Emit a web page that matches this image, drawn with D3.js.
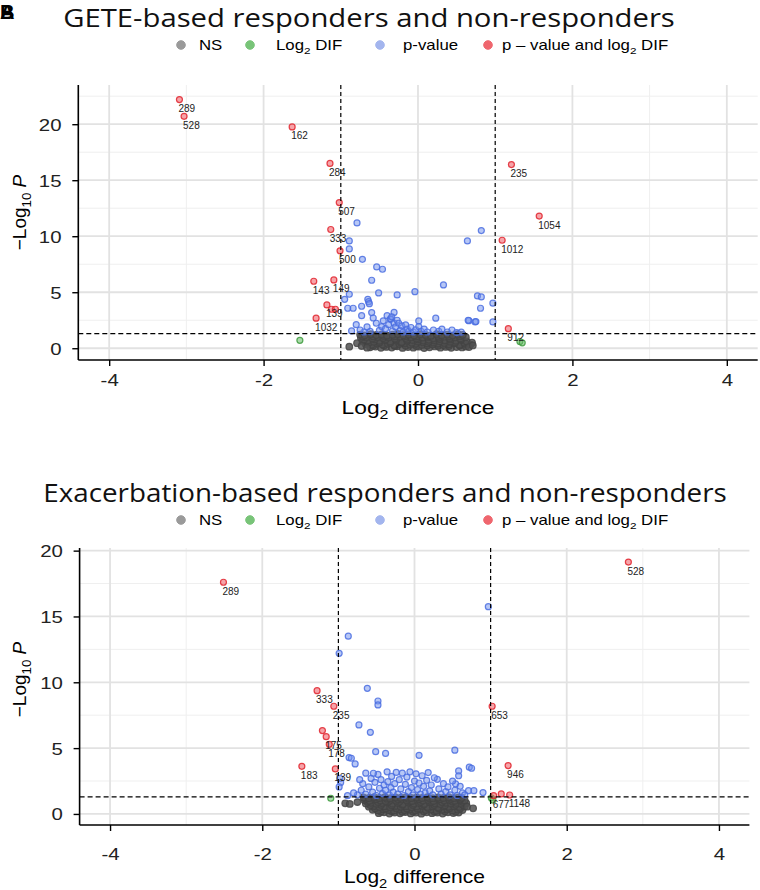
<!DOCTYPE html>
<html><head><meta charset="utf-8">
<script src="https://cdn.jsdelivr.net/npm/d3@7"></script>
<style>body{margin:0;background:#fff}</style>
</head><body>
<svg id="c" width="760" height="890"></svg>
<script>
// ---------------- DATA ----------------
const xTicks = [-4, -2, 0, 2, 4];
const xMinor = [-3, -1, 1, 3];
const yTicks = [0, 5, 10, 15, 20];
const yMinor = [2.5, 7.5, 12.5, 17.5, 22.5];
const log2Cut = 1;
const pCut = 1.3;
const legendLabels = ["NS", "Log_{2} DIF", "p-value", "p \u2013 value and log_{2} DIF"];
const titles = ["GETE-based responders and non-responders", "Exacerbation-based responders and non-responders"];
const xTitle = "Log_{2} difference";
const yTitle = "\u2212Log_{10} *P*";

// GETE panel
const geteNS = [
 [-0.62,0.08],[-0.55,0.15],[-0.48,0.04],[-0.41,0.12],[-0.34,0.06],[-0.27,0.17],[-0.2,0.03],[-0.13,0.1],[-0.06,0.05],[0.01,0.14],[0.08,0.02],[0.15,0.09],[0.22,0.16],[0.29,0.05],[0.36,0.12],[0.43,0.04],[0.5,0.1],[0.57,0.07],[0.62,0.15],
 [-0.58,0.22],[-0.44,0.24],[-0.3,0.2],[-0.16,0.23],[-0.02,0.21],[0.12,0.25],[0.26,0.22],[0.4,0.2],[0.54,0.24],
 [-0.68,0.38],[-0.6,0.31],[-0.53,0.42],[-0.46,0.33],[-0.39,0.4],[-0.31,0.29],[-0.24,0.37],[-0.17,0.44],[-0.1,0.32],[-0.03,0.39],[0.05,0.3],[0.12,0.43],[0.19,0.34],[0.26,0.41],[0.33,0.28],[0.4,0.36],[0.47,0.44],[0.54,0.31],[0.61,0.39],[0.68,0.33],
 [-0.64,0.5],[-0.5,0.52],[-0.36,0.48],[-0.22,0.51],[-0.08,0.49],[0.06,0.53],[0.2,0.5],[0.34,0.47],[0.48,0.52],[0.6,0.5],
 [-0.72,0.62],[-0.65,0.7],[-0.57,0.58],[-0.5,0.67],[-0.43,0.73],[-0.36,0.6],[-0.28,0.69],[-0.21,0.56],[-0.14,0.66],[-0.07,0.74],[0.0,0.61],[0.07,0.68],[0.14,0.57],[0.21,0.71],[0.28,0.63],[0.35,0.7],[0.42,0.59],[0.49,0.66],[0.56,0.73],[0.63,0.6],[0.7,0.5],
 [-0.7,0.79],[-0.56,0.8],[-0.42,0.77],[-0.28,0.81],[-0.14,0.78],[0.0,0.8],[0.14,0.76],[0.28,0.82],[0.42,0.79],[0.56,0.8],
 [-0.74,0.93],[-0.67,0.99],[-0.59,0.88],[-0.52,1.0],[-0.45,0.91],[-0.38,0.97],[-0.3,0.86],[-0.23,1.02],[-0.16,0.92],[-0.09,0.98],[-0.02,0.87],[0.06,0.96],[0.13,1.01],[0.2,0.89],[0.27,0.95],[0.34,1.03],[0.41,0.9],[0.48,0.97],[0.55,0.88],[0.62,0.99],
 [-0.72,1.08],[-0.58,1.06],[-0.44,1.1],[-0.3,1.07],[-0.16,1.09],[-0.02,1.05],[0.12,1.08],[0.26,1.1],[0.4,1.06],[0.54,1.08],
 [-0.75,1.22],[-0.69,1.15],[-0.61,1.26],[-0.54,1.18],[-0.47,1.24],[-0.4,1.13],[-0.33,1.21],[-0.26,1.27],[-0.19,1.16],[-0.12,1.23],[-0.05,1.14],[0.03,1.25],[0.1,1.19],[0.17,1.12],[0.24,1.26],[0.31,1.17],[0.38,1.22],[0.45,1.15],[0.52,1.25],[0.58,1.2],
 [-0.89,0.14],[-0.79,0.45],[-0.73,0.2],[-0.66,0.05],[0.66,0.1],[0.71,0.25]
];
const geteLog2 = [[-1.53,0.71],[1.32,0.6],[1.35,0.48]];
const geteP = [
 [-0.79,11.19],[-0.89,9.58],[-0.89,8.87],[-0.72,7.94],[-0.535,7.26],[-0.46,7.05],[-0.6,6.07],[0.33,5.65],[-0.04,5.05],[-0.51,4.94],[-0.27,4.76],[-0.89,4.82],[-0.95,4.37],[-0.65,4.37],[-0.64,4.16],[-0.63,3.98],[-0.73,3.75],[-0.91,3.57],[-0.84,3.57],[-0.6,3.18],[-0.73,2.91],[0.64,9.58],[0.82,10.5],[0.77,4.67],[0.82,4.58],[0.97,4.02],[0.81,3.57],[0.66,2.46],[0.74,2.35],[0.97,2.35],[-0.31,3.2],
 [-0.58,2.7],[-0.54,2.23],[-0.5,1.6],[-0.47,1.93],[-0.45,2.45],[-0.42,1.75],[-0.4,2.91],[-0.38,2.1],[-0.36,2.6],[-0.35,2.62],[-0.34,2.8],[-0.33,1.55],[-0.31,2.25],[-0.29,1.9],[-0.27,2.5],[-0.25,2.23],[-0.23,1.6],[-0.21,2.0],[-0.19,1.45],[-0.16,2.08],[-0.14,1.7],[-0.12,1.5],[-0.09,1.85],[-0.06,1.45],[-0.03,1.65],[0.01,2.44],[0.01,1.93],[0.04,1.5],[0.08,1.7],[0.12,1.45],[0.2,1.63],[0.23,2.68],[0.27,1.5],[0.31,1.7],[0.38,1.45],[0.44,1.63],[0.5,1.4],[0.56,1.43],[-0.62,1.5],[-0.66,1.9],[-0.7,1.45],[-0.75,1.63],[-0.8,2.1],[-0.86,1.55],[0.65,2.5],[0.75,2.38]
];
const geteBoth = [[-3.09,22.2,"289"],[-3.03,20.7,"528"],[-1.63,19.76,"162"],[-1.14,16.5,"284"],[-1.02,13.0,"507"],[-1.13,10.6,"333"],[-1.01,8.7,"500"],[-1.35,5.98,"143"],[-1.09,6.1,"149"],[-1.18,3.87,"139"],[-1.12,3.48,""],[-1.07,3.48,""],[-1.32,2.68,"1032"],[1.21,16.4,"235"],[1.57,11.8,"1054"],[1.09,9.64,"1012"],[1.17,1.75,"912"]];

// Exacerbation panel
const exacNS = [
 [-0.47,0.06],[-0.4,0.12],[-0.33,0.03],[-0.26,0.1],[-0.19,0.05],[-0.12,0.14],[-0.05,0.04],[0.02,0.11],[0.09,0.02],[0.16,0.13],[0.23,0.06],[0.3,0.1],[0.37,0.03],[0.44,0.12],[0.51,0.07],[0.58,0.1],
 [-0.44,0.18],[-0.3,0.2],[-0.16,0.17],[-0.02,0.19],[0.12,0.21],[0.26,0.18],[0.4,0.2],[0.54,0.17],
 [-0.55,0.32],[-0.48,0.27],[-0.41,0.36],[-0.34,0.3],[-0.27,0.25],[-0.2,0.35],[-0.13,0.28],[-0.06,0.33],[0.01,0.26],[0.08,0.37],[0.15,0.29],[0.22,0.34],[0.29,0.24],[0.36,0.31],[0.43,0.36],[0.5,0.27],[0.57,0.33],[0.63,0.3],
 [-0.52,0.43],[-0.38,0.41],[-0.24,0.44],[-0.1,0.42],[0.04,0.4],[0.18,0.45],[0.32,0.42],[0.46,0.44],[0.6,0.41],
 [-0.6,0.55],[-0.53,0.6],[-0.46,0.52],[-0.39,0.58],[-0.32,0.5],[-0.25,0.61],[-0.18,0.54],[-0.11,0.59],[-0.04,0.51],[0.03,0.57],[0.1,0.62],[0.17,0.53],[0.24,0.58],[0.31,0.5],[0.38,0.6],[0.45,0.54],[0.52,0.59],[0.59,0.52],[0.66,0.57],
 [-0.58,0.68],[-0.44,0.7],[-0.3,0.66],[-0.16,0.69],[-0.02,0.67],[0.12,0.71],[0.26,0.68],[0.4,0.66],[0.54,0.7],[0.64,0.68],
 [-0.64,0.8],[-0.57,0.85],[-0.5,0.77],[-0.43,0.83],[-0.36,0.88],[-0.29,0.78],[-0.22,0.84],[-0.15,0.76],[-0.08,0.86],[-0.01,0.79],[0.06,0.83],[0.13,0.77],[0.2,0.87],[0.27,0.81],[0.34,0.76],[0.41,0.85],[0.48,0.79],[0.55,0.84],[0.62,0.78],[0.68,0.82],
 [-0.62,0.93],[-0.48,0.91],[-0.34,0.94],[-0.2,0.92],[-0.06,0.95],[0.08,0.91],[0.22,0.93],[0.36,0.9],[0.5,0.94],[0.63,0.92],
 [-0.66,1.05],[-0.59,1.0],[-0.52,1.09],[-0.45,1.03],[-0.38,0.98],[-0.31,1.07],[-0.24,1.01],[-0.17,1.1],[-0.1,1.04],[-0.03,0.99],[0.04,1.08],[0.11,1.02],[0.18,1.06],[0.25,0.99],[0.32,1.09],[0.39,1.03],[0.46,1.07],[0.53,1.0],[0.6,1.05],[0.66,1.02],
 [-0.64,1.15],[-0.5,1.14],[-0.36,1.16],[-0.22,1.13],[-0.08,1.16],[0.06,1.14],[0.2,1.17],[0.34,1.13],[0.48,1.15],[0.6,1.14],
 [-0.67,1.25],[-0.6,1.21],[-0.53,1.27],[-0.46,1.22],[-0.39,1.28],[-0.32,1.2],[-0.25,1.26],[-0.18,1.23],[-0.11,1.28],[-0.04,1.21],[0.03,1.26],[0.1,1.22],[0.17,1.28],[0.24,1.2],[0.31,1.25],[0.38,1.22],[0.45,1.27],[0.52,1.21],[0.58,1.26],[0.62,1.23],
 [-0.91,0.81],[-0.85,0.76],[-0.75,0.9],[0.69,0.55],[0.77,0.43]
];
const exacLog2 = [[-1.10,1.19],[1.01,1.22],[1.03,1.05]];
const exacP = [
 [-0.87,13.5],[-0.99,12.2],[0.97,15.74],[-0.62,9.54],[-0.48,8.58],[-0.48,8.28],[-0.73,6.76],[-0.58,6.2],[-0.86,4.28],[-0.83,4.23],[-0.78,3.8],[-0.51,4.73],[-0.38,4.6],[0.06,4.45],[0.53,4.84],[0.72,3.55],[0.75,3.47],[0.58,3.27],[0.18,3.14],[0.54,2.28],[0.71,1.77],[0.78,1.77],[0.9,1.62],[0.3,2.63],[-0.98,2.7],
 [-0.75,1.45],[-0.7,1.8],[-0.68,2.3],[-0.64,1.5],[-0.6,2.05],[-0.57,2.7],[-0.55,1.65],[-0.52,2.4],[-0.5,1.4],[-0.48,3.0],[-0.46,1.95],[-0.44,2.6],[-0.42,1.55],[-0.4,2.2],[-0.38,1.8],[-0.36,3.2],[-0.35,2.45],[-0.33,1.45],[-0.31,2.0],[-0.3,2.85],[-0.28,1.65],[-0.26,2.3],[-0.24,3.15],[-0.22,1.5],[-0.2,2.6],[-0.18,1.9],[-0.16,3.1],[-0.14,1.4],[-0.12,2.25],[-0.1,2.8],[-0.08,1.7],[-0.06,3.2],[-0.04,2.0],[-0.02,1.45],[0.0,2.5],[0.02,3.05],[0.04,1.85],[0.06,2.35],[0.08,1.5],[0.1,2.9],[0.12,2.1],[0.14,1.6],[0.16,2.55],[0.2,1.75],[0.22,2.2],[0.24,1.45],[0.26,2.75],[0.32,1.9],[0.35,1.5],[0.38,2.3],[0.41,1.7],[0.44,2.05],[0.47,1.45],[0.5,2.5],[0.53,1.8],[0.56,1.4],[0.6,2.1],[0.63,1.6],[0.66,1.45],[0.58,2.9],[-0.64,3.1],[-0.72,2.6],[-0.97,2.38],[-0.99,2.05],[-0.88,1.39],[-0.8,1.6],[-0.54,3.09]
];
const exacBoth = [[-2.51,17.6,"289"],[2.81,19.13,"528"],[-1.28,9.36,"333"],[-1.06,8.18,"235"],[-1.21,6.33,""],[-1.16,5.87,"175"],[-1.12,5.29,"178"],[-1.48,3.62,"183"],[-1.04,3.42,"139"],[1.02,8.18,"653"],[1.23,3.67,"946"],[1.04,1.39,"677"],[1.14,1.52,""],[1.25,1.44,"1148"]];

// ---------------- STYLE / LAYOUT ----------------
const SANS = "'Liberation Sans', Arial, sans-serif";
const TITLEF = "'Open Sans', 'Noto Sans', sans-serif";
const SX = 1.2;
const colors = {
  ns:   {stroke: "#444444", fill: "#505050", leg: "#9a9a9a", fo: 0.85},
  log2: {stroke: "#3c9a3c", fill: "#66bb66", leg: "#78c478", fo: 0.55},
  p:    {stroke: "#4a6de0", fill: "#7090ee", leg: "#a3b5ee", fo: 0.5},
  both: {stroke: "#e0232d", fill: "#ee5a62", leg: "#ef666e", fo: 0.55}
};

const svg = d3.select("#c");

function rich(sel, str, size) {
  const parts = str.split(/(_\{[^}]*\}|\*[^*]*\*)/).filter(s => s.length);
  let shifted = false;
  parts.forEach(p => {
    const t = sel.append("tspan");
    if (p.startsWith("_{")) {
      t.text(p.slice(2, -1)).attr("font-size", size * 0.7).attr("dy", size * 0.3);
      shifted = true;
    } else {
      if (shifted) { t.attr("dy", -size * 0.3); shifted = false; }
      if (p.startsWith("*")) t.text(p.slice(1, -1)).attr("font-style", "italic");
      else t.text(p);
    }
  });
}

function label(parent, x, y, str, size, anchor, sx, family, rotate) {
  const g = parent.append("g").attr("transform", `translate(${x},${y})` + (rotate ? ` rotate(${rotate})` : "") + ` scale(${sx},1)`);
  const t = g.append("text").attr("font-family", family || SANS).attr("font-size", size)
    .attr("text-anchor", anchor).attr("dy", "0.35em").attr("fill", "#000");
  rich(t, str, size);
  return t;
}

function fitTitle(x, y, str, size, width) {
  const g = svg.append("g");
  const t = g.append("text").attr("font-family", TITLEF).attr("font-size", size)
    .attr("text-anchor", "middle").attr("dy", "0.35em").attr("fill", "#111").text(str);
  const w = t.node().getComputedTextLength();
  g.attr("transform", `translate(${x},${y}) scale(${width / w},1)`);
}

function legend(y, xs) {
  const keys = ["ns", "log2", "p", "both"];
  keys.forEach((k, i) => {
    svg.append("circle").attr("cx", xs[i][0]).attr("cy", y).attr("r", 4.3)
      .attr("fill", colors[k].leg).attr("stroke", colors[k].leg);
    label(svg, xs[i][1], y, legendLabels[i], 14, "start", SX);
  });
}

function panel(cfg, ns, log2, pv, both) {
  const x = d3.scaleLinear().domain([-4.4, 4.4]).range([cfg.left, cfg.right]);
  const y = d3.scaleLinear().domain(cfg.ydom).range([cfg.bottom, cfg.top]);
  const g = svg.append("g");
  // grid
  g.selectAll(".gxm").data(xMinor).enter().append("line")
    .attr("x1", d => x(d)).attr("x2", d => x(d)).attr("y1", cfg.top).attr("y2", cfg.bottom)
    .attr("stroke", "#efefef").attr("stroke-width", 1);
  g.selectAll(".gym").data(yMinor.filter(v => v < cfg.ydom[1])).enter().append("line")
    .attr("y1", d => y(d)).attr("y2", d => y(d)).attr("x1", cfg.left).attr("x2", cfg.right)
    .attr("stroke", "#efefef").attr("stroke-width", 1);
  g.selectAll(".gx").data(xTicks).enter().append("line")
    .attr("x1", d => x(d)).attr("x2", d => x(d)).attr("y1", cfg.top).attr("y2", cfg.bottom)
    .attr("stroke", "#e2e2e2").attr("stroke-width", 1.8);
  g.selectAll(".gy").data(yTicks).enter().append("line")
    .attr("y1", d => y(d)).attr("y2", d => y(d)).attr("x1", cfg.left).attr("x2", cfg.right)
    .attr("stroke", "#e2e2e2").attr("stroke-width", 1.8);

  function pts(data, c, r) {
    g.append("g").selectAll("circle").data(data).enter().append("circle")
      .attr("cx", d => x(d[0])).attr("cy", d => y(d[1])).attr("r", r)
      .attr("fill", c.fill).attr("fill-opacity", c.fo)
      .attr("stroke", c.stroke).attr("stroke-opacity", 0.85).attr("stroke-width", 1.2);
  }
  pts(ns, colors.ns, 3.3);
  pts(log2, colors.log2, 3);
  pts(pv, colors.p, 3);
  pts(both, colors.both, 3);

  // cut-off lines
  g.selectAll(".vc").data([-log2Cut, log2Cut]).enter().append("line")
    .attr("x1", d => x(d)).attr("x2", d => x(d)).attr("y1", cfg.top).attr("y2", cfg.bottom)
    .attr("stroke", "#000").attr("stroke-width", 1.2).attr("stroke-dasharray", "4,3");
  g.append("line").attr("x1", cfg.left).attr("x2", cfg.right).attr("y1", y(pCut)).attr("y2", y(pCut))
    .attr("stroke", "#000").attr("stroke-width", 1.2).attr("stroke-dasharray", "5,3");

  // point labels
  g.append("g").selectAll("text").data(both.filter(d => d[2])).enter().append("text")
    .attr("x", d => x(d[0]) - 1).attr("y", d => y(d[1]) + 9).attr("dy", "0.35em")
    .attr("font-family", SANS).attr("font-size", 10).attr("fill", "#222")
    .text(d => d[2]);

  // axes
  const ax = g.append("g").attr("transform", `translate(0,${cfg.bottom})`)
    .call(d3.axisBottom(x).tickValues(xTicks).tickSize(6).tickFormat(d => String(d)));
  const ay = g.append("g").attr("transform", `translate(${cfg.left},0)`)
    .call(d3.axisLeft(y).tickValues(yTicks).tickSize(6).tickFormat(d => String(d)));
  [ax, ay].forEach(a => {
    a.select(".domain").remove();
    a.selectAll(".tick line").attr("stroke", "#000").attr("stroke-width", 1.4);
    a.selectAll(".tick text").attr("font-family", SANS).attr("font-size", 17).attr("fill", "#222");
  });
  ax.selectAll(".tick text").attr("y", cfg.xLabOff).attr("dy", "0.35em")
    .attr("transform", `scale(${SX},1)`);
  ay.selectAll(".tick text").attr("x", -14).attr("dy", "0.35em")
    .attr("transform", `scale(${SX},1)`);
  g.append("line").attr("x1", cfg.left).attr("x2", cfg.left).attr("y1", cfg.top).attr("y2", cfg.bottom)
    .attr("stroke", "#000").attr("stroke-width", 1.6);
  g.append("line").attr("x1", cfg.left).attr("x2", cfg.right).attr("y1", cfg.bottom).attr("y2", cfg.bottom)
    .attr("stroke", "#000").attr("stroke-width", 1.6);

  label(svg, x(0), cfg.xTitleY, xTitle, cfg.xTitleSize, "middle", SX);
  label(svg, 19, (cfg.top + cfg.bottom) / 2 + cfg.yTitleShift, yTitle, 19, "middle", 1, SANS, -90);
}

// corner panel letters
["B", "A"].forEach(s => svg.append("text").attr("x", 0).attr("y", 19).attr("font-family", SANS)
  .attr("font-weight", "bold").attr("font-size", 20).attr("fill", "#000").text(s));

fitTitle(369, 18, titles[0], 26, 612);
legend(45, [[181, 199], [250, 276], [380, 403], [488, 502]]);
panel({left: 78.3, right: 757.7, top: 85, bottom: 360, ydom: [-1.05, 23.5], xLabOff: 20, xTitleY: 407, xTitleSize: 19, yTitleShift: -10},
  geteNS, geteLog2, geteP, geteBoth);

fitTitle(385, 493, titles[1], 26, 684);
legend(520, [[181, 199], [250, 276], [380, 403], [488, 502]]);
panel({left: 79.6, right: 749.4, top: 548, bottom: 825, ydom: [-0.84, 20.2], xLabOff: 29, xTitleY: 877, xTitleSize: 17.5, yTitleShift: -7},
  exacNS, exacLog2, exacP, exacBoth);
</script>
</body></html>
